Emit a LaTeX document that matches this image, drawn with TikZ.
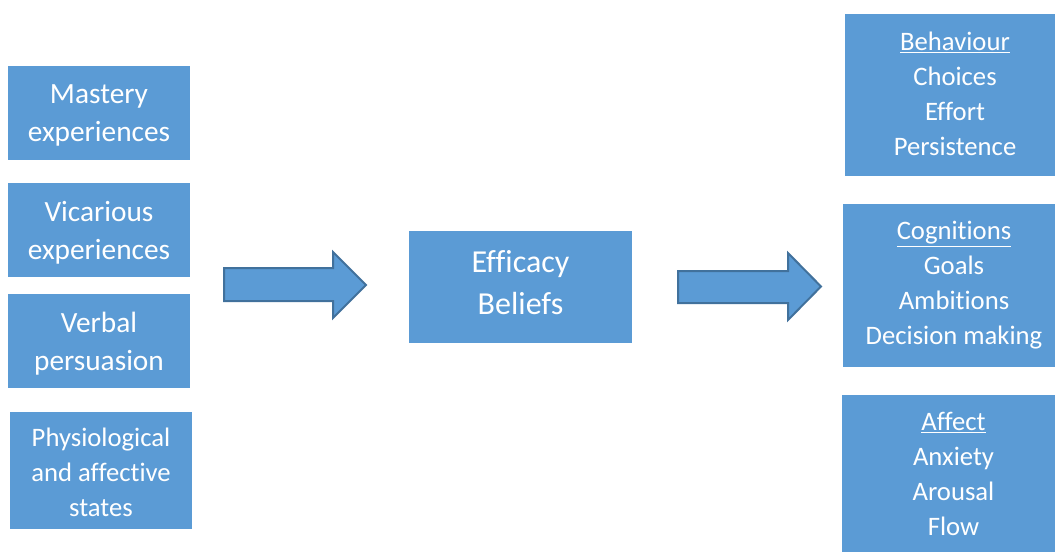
\documentclass[tikz,border=0pt]{standalone}
\usepackage{fontspec}
\setmainfont{Carlito}[Ligatures=NoCommon]
\definecolor{boxblue}{HTML}{5B9BD5}
\definecolor{arrowline}{HTML}{41719C}
\begin{document}
\begin{tikzpicture}[x=0.75pt,y=-0.75pt,
  box/.style={fill=boxblue,inner sep=0pt},
  boxtext/.style={text=white,align=center,inner sep=0pt},
  source/.style={box,minimum width=136.5pt,minimum height=70.5pt},
  sourcetext/.style={boxtext,yshift=-2pt,font=\fontsize{22}{28.5}\selectfont},
  outcometext/.style={boxtext,xshift=3.75pt,font=\fontsize{20}{26.25}\selectfont},
  blockarrow/.style={fill=boxblue,draw=arrowline,line width=1.5pt,line join=miter}]
\useasboundingbox (0,0) rectangle (1055,552);
\node[source,label={[sourcetext]center:Mastery\\experiences}] (mastery) at (99,113) {};
\node[source,label={[sourcetext]center:Vicarious\\experiences}] (vicarious) at (99,230) {};
\node[source,label={[sourcetext,yshift=-0.3pt]center:Verbal\\persuasion}] (verbal) at (99,341) {};
\node[source,minimum width=136.5pt,minimum height=87.75pt,label={[sourcetext,font=\fontsize{20}{26.25}\selectfont,yshift=0.5pt]center:Physiological\\and affective\\states}] (physio) at (101,470.5) {};
\node[box,minimum width=167.25pt,minimum height=84pt,label={[boxtext,yshift=3pt,font=\fontsize{24}{31.5}\selectfont]center:Efficacy\\Beliefs}] (efficacy) at (520.5,287) {};
\node[box,minimum width=157.5pt,minimum height=121.5pt,label={[outcometext,yshift=1pt]center:\underline{Behaviour}\\Choices\\Effort\\Persistence}] (behaviour) at (950,95) {};
\node[box,minimum width=159pt,minimum height=122.25pt,label={[outcometext]center:\underline{Cognitions}\\Goals\\Ambitions\\Decision making}] (cognitions) at (949,285.5) {};
\node[box,minimum width=159.75pt,minimum height=117.75pt,label={[outcometext]center:\underline{Affect}\\Anxiety\\Arousal\\Flow}] (affect) at (948.5,473.5) {};
\draw[blockarrow] (224,268) -- (333,268) -- (333,252) -- (366,285) -- (333,318) -- (333,301) -- (224,301) -- cycle;
\draw[blockarrow] (678,271) -- (788,271) -- (788,253) -- (821,286.5) -- (788,320) -- (788,303) -- (678,303) -- cycle;
\end{tikzpicture}
\end{document}
